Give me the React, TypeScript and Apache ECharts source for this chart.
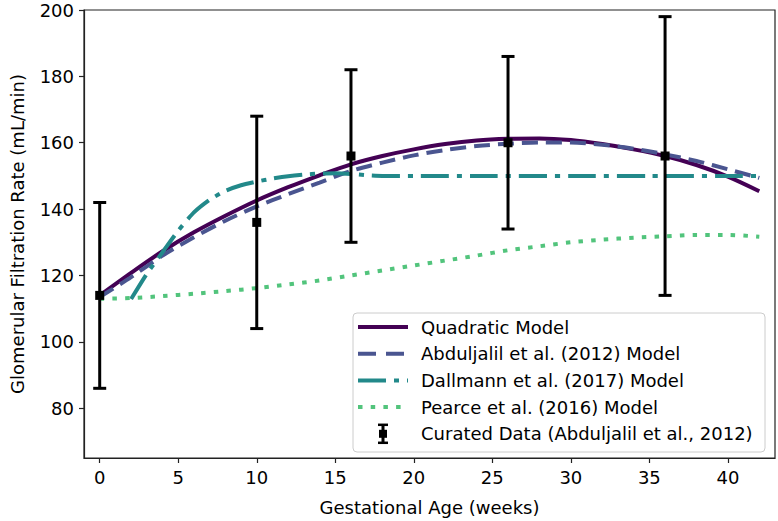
import React, { useEffect, useRef } from "react";
import * as echarts from "echarts";

// ---- data ----
const weeks = [0, 2, 4, 6, 8, 10, 12, 14, 16, 18, 20, 22, 24, 26, 28, 30, 32, 34, 36, 38, 40, 42];
const quadratic = [114, 120.8, 127.3, 133, 138, 142.6, 146.6, 150.2, 153.5, 156, 158, 159.6, 160.7, 161.2, 161.3, 160.8, 159.6, 158, 156, 153.3, 149.8, 145.4];
const abduljalil = [113.5, 119.5, 126, 131.5, 136.5, 140.8, 144.5, 148, 151.5, 154, 156.2, 157.8, 159, 159.7, 160.1, 160.1, 159.4, 158.2, 156.5, 154.5, 152, 149.4];
const pearce = [113, 113.2, 113.8, 114.5, 115.3, 116.2, 117.3, 118.5, 120, 121.5, 123, 124.5, 126, 127.6, 128.8, 130, 130.8, 131.4, 131.8, 132.2, 132.2, 131.7];
const dallmannWeeks = [2, 3, 4, 5, 6, 7, 8, 9, 10, 11, 12, 13, 14, 15, 16, 17, 18, 20, 25, 30, 35, 40, 42];
const dallmann = [112.9, 120.5, 127, 133.5, 139, 142.8, 145.5, 147.2, 148.3, 149.2, 149.9, 150.4, 150.7, 150.8, 150.6, 150.2, 150, 150, 150, 150, 150, 150, 150];
const dataWeeks = [0, 10, 16, 26, 36];
const dataMean = [114, 136, 156, 160, 156];
const dataLow = [86, 104, 130, 134, 114];
const dataHigh = [142, 168, 182, 186, 198];
const xTicks = [0, 5, 10, 15, 20, 25, 30, 35, 40];
const yTicks = [80, 100, 120, 140, 160, 180, 200];
const legendNames = [
  "Quadratic Model",
  "Abduljalil et al. (2012) Model",
  "Dallmann et al. (2017) Model",
  "Pearce et al. (2016) Model",
  "Curated Data (Abduljalil et al., 2012)",
];

const C_QUAD = "#440154";
const C_ABD = "#4a5590";
const C_DAL = "#22898a";
const C_PEA = "#52c47c";
const FONT = "DejaVu Sans";
const FS = 18;

export default function App() {
  const ref = useRef<HTMLDivElement>(null);
  useEffect(() => {
    if (!ref.current) return;
    const chart = echarts.init(ref.current, null, { renderer: "svg" });
    const zip = (xs: number[], ys: number[]) => xs.map((x, i) => [x, ys[i]]);

    const lx = 353, ly = 313, lw = 412, lh = 139;
    const rowY = (i: number) => ly + 14 + i * 26.7;
    const hx0 = 358, hx1 = 408, tx = 421;
    const handle = (i: number, color: string, dash: any) => ({
      type: "line",
      shape: { x1: hx0, y1: rowY(i), x2: hx1, y2: rowY(i) },
      style: { stroke: color, lineWidth: 4, lineDash: dash, lineCap: "butt" },
    });
    const legendGraphics: any[] = [
      {
        type: "rect",
        shape: { x: lx, y: ly, width: lw, height: lh, r: 4 },
        style: { fill: "rgba(255,255,255,0.85)", stroke: "#cccccc", lineWidth: 1 },
        z: 100,
      },
      handle(0, C_QUAD, null),
      handle(1, C_ABD, [18, 10]),
      handle(2, C_DAL, [28, 8, 5, 8]),
      handle(3, C_PEA, [4.5, 8.2]),
      {
        type: "line",
        shape: { x1: 383, y1: rowY(4) - 9, x2: 383, y2: rowY(4) + 9 },
        style: { stroke: "#000", lineWidth: 3 },
      },
      {
        type: "line",
        shape: { x1: 378, y1: rowY(4) - 9, x2: 388, y2: rowY(4) - 9 },
        style: { stroke: "#000", lineWidth: 2.5 },
      },
      {
        type: "line",
        shape: { x1: 378, y1: rowY(4) + 9, x2: 388, y2: rowY(4) + 9 },
        style: { stroke: "#000", lineWidth: 2.5 },
      },
      {
        type: "rect",
        shape: { x: 379, y: rowY(4) - 4, width: 8, height: 8 },
        style: { fill: "#000" },
      },
      ...legendNames.map((n, i) => ({
        type: "text",
        x: tx,
        y: rowY(i),
        style: { text: n, fontFamily: FONT, fontSize: FS, fill: "#000", verticalAlign: "middle", align: "left" },
      })),
    ].map((g, i) => ({ ...g, z: 100 + i }));

    const option: any = {
      animation: false,
      backgroundColor: "#ffffff",
      grid: {
        left: 78, top: 10, right: 3, bottom: 59,
        show: true, borderColor: "#222", borderWidth: 1.2, backgroundColor: "transparent",
      },
      xAxis: {
        type: "value", min: -1, max: 43,
        name: "Gestational Age (weeks)", nameLocation: "middle", nameGap: 40,
        nameTextStyle: { fontFamily: FONT, fontSize: FS, color: "#000" },
        axisLine: { show: true, onZero: false, lineStyle: { color: "#222", width: 1.2 } },
        axisTick: { show: true, customValues: xTicks, length: 5, inside: false, lineStyle: { color: "#222", width: 1.2 } },
        axisLabel: { customValues: xTicks, margin: 10, fontFamily: FONT, fontSize: FS, color: "#000" },
        splitLine: { show: false },
      },
      yAxis: {
        type: "value", min: 65, max: 200,
        name: "Glomerular Filtration Rate (mL/min)", nameLocation: "middle", nameGap: 58, nameRotate: 90,
        nameTextStyle: { fontFamily: FONT, fontSize: FS, color: "#000" },
        axisLine: { show: true, onZero: false, lineStyle: { color: "#222", width: 1.2 } },
        axisTick: { show: true, customValues: yTicks, length: 5, inside: false, lineStyle: { color: "#222", width: 1.2 } },
        axisLabel: { customValues: yTicks, margin: 10, fontFamily: FONT, fontSize: FS, color: "#000" },
        splitLine: { show: false },
      },
      series: [
        {
          type: "line", name: legendNames[0], data: zip(weeks, quadratic), showSymbol: false, smooth: 0.3,
          lineStyle: { color: C_QUAD, width: 4 }, z: 2,
        },
        {
          type: "line", name: legendNames[1], data: zip(weeks, abduljalil), showSymbol: false, smooth: 0.3,
          lineStyle: { color: C_ABD, width: 4, type: [16, 8], cap: "butt" }, z: 3,
        },
        {
          type: "line", name: legendNames[2], data: zip(dallmannWeeks, dallmann), showSymbol: false, smooth: 0.2,
          lineStyle: { color: C_DAL, width: 4, type: [28, 8, 5, 8], cap: "butt" }, z: 4,
        },
        {
          type: "line", name: legendNames[3], data: zip(weeks, pearce), showSymbol: false, smooth: 0.3,
          lineStyle: { color: C_PEA, width: 4, type: [4.5, 8.2], cap: "butt" }, z: 5,
        },
        {
          type: "custom", name: legendNames[4], z: 10,
          data: dataWeeks.map((w, i) => [w, dataMean[i], dataLow[i], dataHigh[i]]),
          renderItem: (params: any, api: any) => {
            const x = api.value(0);
            const m = api.coord([x, api.value(1)]);
            const lo = api.coord([x, api.value(2)]);
            const hi = api.coord([x, api.value(3)]);
            const cw = 6.5;
            return {
              type: "group",
              children: [
                { type: "line", shape: { x1: m[0], y1: lo[1], x2: m[0], y2: hi[1] }, style: { stroke: "#000", lineWidth: 3 } },
                { type: "line", shape: { x1: m[0] - cw, y1: lo[1], x2: m[0] + cw, y2: lo[1] }, style: { stroke: "#000", lineWidth: 3 } },
                { type: "line", shape: { x1: m[0] - cw, y1: hi[1], x2: m[0] + cw, y2: hi[1] }, style: { stroke: "#000", lineWidth: 3 } },
                { type: "rect", shape: { x: m[0] - 4.5, y: m[1] - 4.5, width: 9, height: 9 }, style: { fill: "#000" } },
              ],
            };
          },
        },
      ],
      graphic: legendGraphics,
    };
    chart.setOption(option);
    return () => chart.dispose();
  }, []);

  return (
    <div
      ref={ref}
      style={{ position: "fixed", left: 0, top: 0, width: 778, height: 521, background: "#fff" }}
    />
  );
}
